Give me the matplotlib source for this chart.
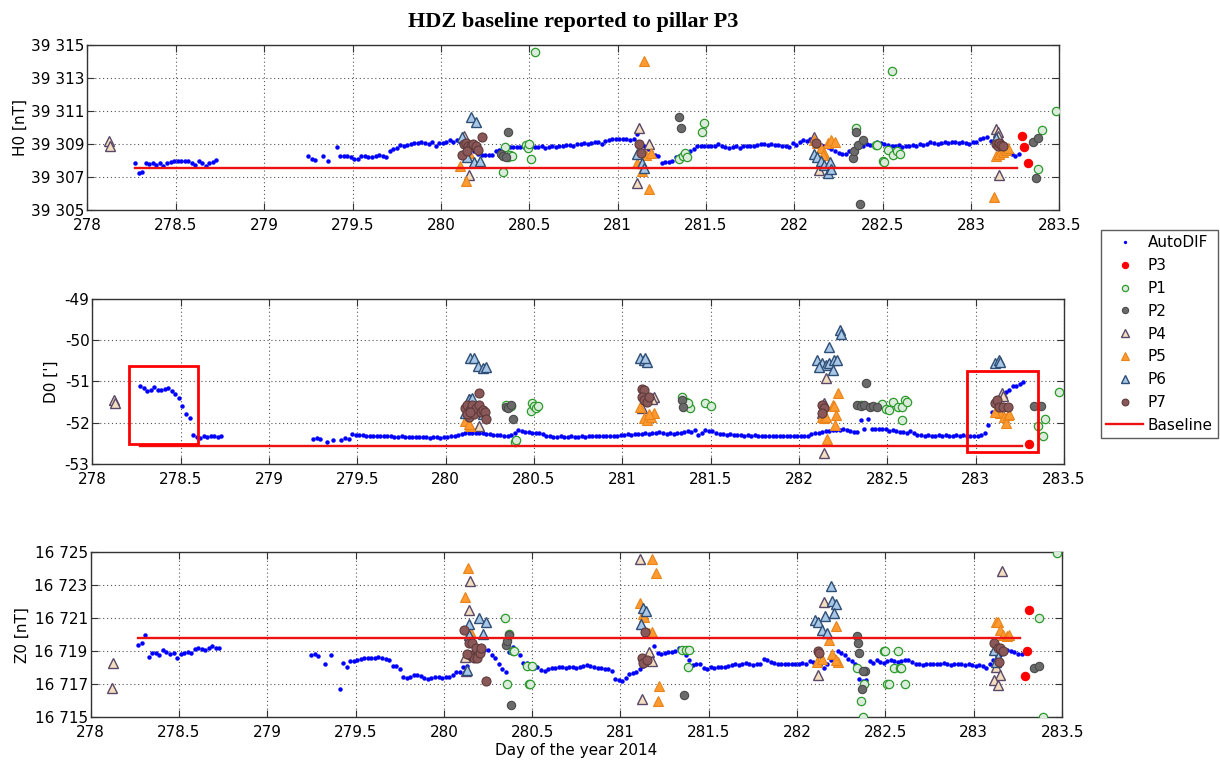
import matplotlib
matplotlib.use('Agg')
import matplotlib.pyplot as plt
from matplotlib.patches import Rectangle
import numpy as np

plt.rcParams['font.family'] = 'DejaVu Sans'
plt.rcParams['font.size'] = 11

# ---------------- AutoDIF time stamps (day of year 2014) ----------------
t_seg_a = [278.27, 278.29, 278.31, 278.33, 278.35, 278.37, 278.39, 278.41,
           278.43, 278.45, 278.47, 278.49, 278.51, 278.53, 278.55, 278.57,
           278.59, 278.61, 278.63, 278.65, 278.67, 278.69, 278.71, 278.73]
t_seg_b0 = [279.25, 279.27, 279.29, 279.33, 279.36, 279.41, 279.43, 279.45, 279.47]
t_seg_b = [
    279.49, 279.51, 279.53, 279.55, 279.57, 279.59, 279.61, 279.63, 279.65, 279.67,
    279.69, 279.71, 279.73, 279.75, 279.77, 279.79, 279.81, 279.83, 279.85, 279.87,
    279.89, 279.91, 279.93, 279.95, 279.97, 279.99, 280.01, 280.03, 280.05, 280.07,
    280.09, 280.11, 280.13, 280.15, 280.17, 280.19, 280.21, 280.23, 280.25, 280.27,
    280.29, 280.31, 280.33, 280.35, 280.37, 280.39, 280.41, 280.43, 280.45, 280.47,
    280.49, 280.51, 280.53, 280.55, 280.57, 280.59, 280.61, 280.63, 280.65, 280.67,
    280.69, 280.71, 280.73, 280.75, 280.77, 280.79, 280.81, 280.83, 280.85, 280.87,
    280.89, 280.91, 280.93, 280.95, 280.97, 280.99, 281.01, 281.03, 281.05, 281.07,
    281.09, 281.11, 281.13, 281.15, 281.17, 281.19, 281.21, 281.23, 281.25, 281.27,
    281.29, 281.31, 281.33, 281.35, 281.37, 281.39, 281.41, 281.43, 281.45, 281.47,
    281.49, 281.51, 281.53, 281.55, 281.57, 281.59, 281.61, 281.63, 281.65, 281.67,
    281.69, 281.71, 281.73, 281.75, 281.77, 281.79, 281.81, 281.83, 281.85, 281.87,
    281.89, 281.91, 281.93, 281.95, 281.97, 281.99, 282.01, 282.03, 282.05, 282.07,
    282.09, 282.11, 282.13, 282.15, 282.17, 282.19, 282.21, 282.23, 282.25, 282.27,
    282.29, 282.31, 282.33, 282.35, 282.37, 282.39, 282.41, 282.43, 282.45, 282.47,
    282.49, 282.51, 282.53, 282.55, 282.57, 282.59, 282.61, 282.63, 282.65, 282.67,
    282.69, 282.71, 282.73, 282.75, 282.77, 282.79, 282.81, 282.83, 282.85, 282.87,
    282.89, 282.91, 282.93, 282.95, 282.97, 282.99, 283.01, 283.03, 283.05, 283.07,
    283.09, 283.11, 283.13, 283.15, 283.17, 283.19, 283.21, 283.23, 283.25, 283.27]

# ---------------- AutoDIF H0 [nT] ----------------
h_seg_a = [39307.85, 39307.25, 39307.28, 39307.82, 39307.80, 39307.82, 39307.75, 39307.85,
           39307.65, 39307.85, 39307.92, 39307.95, 39307.95, 39307.95, 39307.98, 39307.95,
           39307.85, 39307.75, 39307.95, 39307.85, 39307.65, 39307.85, 39307.90, 39308.02]
h_seg_b0 = [39308.25, 39308.10, 39308.05, 39308.30, 39307.95, 39308.80, 39308.25, 39308.25, 39308.25]
h_seg_b = [
    39308.20, 39308.10, 39308.10, 39308.25, 39308.28, 39308.20, 39308.22, 39308.30, 39308.35, 39308.25,
    39308.22, 39308.60, 39308.68, 39308.78, 39308.95, 39308.90, 39308.92, 39309.00, 39309.05, 39309.08,
    39309.12, 39309.05, 39309.00, 39309.10, 39308.85, 39309.05, 39309.08, 39309.10, 39309.22, 39309.15,
    39309.22, 39309.10, 39309.00, 39308.90, 39308.75, 39308.60, 39308.40, 39308.35, 39308.32, 39308.33,
    39308.35, 39308.55, 39308.65, 39308.80, 39308.75, 39308.80, 39308.82, 39308.80, 39308.82, 39308.80,
    39308.85, 39308.80, 39308.82, 39308.80, 39308.85, 39308.78, 39308.80, 39308.85, 39308.80, 39308.88,
    39308.90, 39308.92, 39308.95, 39308.90, 39308.98, 39309.00, 39309.05, 39309.00, 39309.05, 39309.10,
    39309.12, 39308.98, 39309.20, 39309.25, 39309.28, 39309.30, 39309.32, 39309.30, 39309.32, 39309.25,
    39309.30, 39309.60, 39309.05, 39308.90, 39308.70, 39308.50, 39308.35, 39308.30, 39307.85, 39307.92,
    39307.90, 39307.95, 39308.20, 39308.30, 39308.40, 39308.45, 39308.55, 39308.70, 39308.85, 39308.88,
    39308.85, 39308.88, 39308.85, 39308.90, 39309.00, 39308.85, 39308.80, 39308.78, 39308.82, 39308.90,
    39308.75, 39308.85, 39308.88, 39308.85, 39308.85, 39308.95, 39309.00, 39308.98, 39308.95, 39308.98,
    39308.92, 39308.95, 39308.90, 39308.88, 39308.80, 39309.05, 39308.95, 39309.10, 39309.25, 39309.20,
    39309.30, 39309.10, 39309.00, 39308.95, 39308.90, 39308.80, 39308.70, 39308.55, 39308.45, 39308.40,
    39308.40, 39308.55, 39308.70, 39308.75, 39308.85, 39308.90, 39309.00, 39308.95, 39309.00, 39309.10,
    39309.05, 39309.00, 39308.95, 39308.90, 39308.85, 39308.95, 39308.80, 39308.85, 39308.90, 39308.95,
    39308.90, 39309.00, 39308.95, 39309.00, 39309.10, 39309.05, 39309.00, 39309.05, 39309.10, 39309.05,
    39309.10, 39309.10, 39309.05, 39309.10, 39309.05, 39309.00, 39309.15, 39309.10, 39309.30, 39309.35,
    39309.40, 39309.20, 39309.00, 39308.90, 39308.80, 39308.70, 39308.60, 39308.40, 39308.30, 39308.40]

# ---------------- AutoDIF D0 ['] ----------------
d_seg_a = [-51.12, -51.15, -51.22, -51.20, -51.14, -51.20, -51.21, -51.19,
           -51.16, -51.22, -51.30, -51.40, -51.60, -51.79, -51.88, -52.30,
           -52.35, -52.36, -52.32, -52.34, -52.33, -52.33, -52.34, -52.33]
d_seg_b0 = [-52.39, -52.38, -52.39, -52.46, -52.42, -52.43, -52.36, -52.39, -52.28]
d_seg_b = [
    -52.30, -52.29, -52.30, -52.31, -52.31, -52.32, -52.31, -52.32, -52.33, -52.32,
    -52.33, -52.34, -52.34, -52.33, -52.34, -52.34, -52.35, -52.34, -52.35, -52.35,
    -52.35, -52.36, -52.35, -52.35, -52.36, -52.35, -52.34, -52.33, -52.31, -52.30,
    -52.28, -52.26, -52.25, -52.24, -52.24, -52.25, -52.24, -52.27, -52.28, -52.29,
    -52.30, -52.29, -52.31, -52.32, -52.30, -52.25, -52.18, -52.20, -52.23, -52.23,
    -52.24, -52.25, -52.26, -52.28, -52.31, -52.33, -52.34, -52.34, -52.33, -52.34,
    -52.34, -52.33, -52.34, -52.34, -52.33, -52.34, -52.33, -52.33, -52.32, -52.32,
    -52.33, -52.32, -52.31, -52.32, -52.31, -52.30, -52.30, -52.28, -52.29, -52.28,
    -52.27, -52.27, -52.26, -52.27, -52.25, -52.26, -52.23, -52.26, -52.27, -52.26,
    -52.27, -52.25, -52.26, -52.22, -52.20, -52.22, -52.18, -52.29, -52.24, -52.18,
    -52.19, -52.21, -52.25, -52.27, -52.28, -52.29, -52.28, -52.29, -52.30, -52.29,
    -52.31, -52.30, -52.31, -52.30, -52.31, -52.32, -52.32, -52.33, -52.32, -52.32,
    -52.33, -52.32, -52.33, -52.32, -52.32, -52.33, -52.32, -52.32, -52.31, -52.28,
    -52.25, -52.24, -52.22, -52.20, -52.19, -52.18, -52.17, -52.18, -52.16, -52.17,
    -52.19, -52.22, -52.23, -51.93, -52.16, -51.90, -52.14, -52.14, -52.15, -52.14,
    -52.16, -52.19, -52.18, -52.21, -52.23, -52.22, -52.25, -52.21, -52.26, -52.29,
    -52.30, -52.31, -52.30, -52.31, -52.31, -52.30, -52.31, -52.30, -52.31, -52.31,
    -52.30, -52.31, -52.30, -52.31, -52.31, -52.32, -52.31, -52.30, -52.26, -52.06,
    -51.75, -51.55, -51.42, -51.33, -51.25, -51.20, -51.12, -51.10, -51.05, -51.02]

# ---------------- AutoDIF Z0 [nT] ----------------
z_seg_a = [16719.40, 16719.50, 16720.00, 16718.65, 16718.88, 16718.90, 16718.78, 16719.10,
           16718.95, 16718.85, 16718.90, 16718.58, 16718.85, 16718.90, 16718.95, 16718.90,
           16719.15, 16719.18, 16719.12, 16719.10, 16719.18, 16719.35, 16719.18, 16719.18]
z_seg_b0 = [16718.80, 16718.83, 16718.74, 16718.24, 16718.80, 16716.72, 16718.30, 16718.06, 16718.40]
z_seg_b = [
    16718.40, 16718.48, 16718.55, 16718.60, 16718.62, 16718.62, 16718.60, 16718.65, 16718.58, 16718.55,
    16718.45, 16718.10, 16718.08, 16717.95, 16717.42, 16717.40, 16717.45, 16717.55, 16717.58, 16717.50,
    16717.38, 16717.30, 16717.40, 16717.45, 16717.42, 16717.40, 16717.42, 16717.45, 16717.55, 16717.75,
    16717.72, 16718.05, 16718.10, 16718.60, 16719.00, 16719.20, 16719.20, 16719.05, 16719.10, 16718.80,
    16718.60, 16718.20, 16717.90, 16717.75, 16718.95, 16719.25, 16719.10, 16718.75, 16718.30, 16718.30,
    16718.10, 16718.00, 16718.05, 16717.85, 16717.80, 16717.95, 16718.00, 16718.00, 16718.05, 16718.05,
    16718.00, 16718.05, 16718.05, 16718.00, 16718.05, 16718.10, 16718.15, 16718.10, 16718.05, 16718.00,
    16718.00, 16717.95, 16717.90, 16717.80, 16717.35, 16717.25, 16717.20, 16717.40, 16717.65, 16717.70,
    16717.75, 16717.90, 16718.10, 16718.30, 16718.45, 16719.35, 16718.90, 16718.85, 16718.90, 16718.95,
    16718.95, 16719.00, 16719.20, 16719.00, 16718.80, 16718.50, 16718.15, 16718.20, 16718.25, 16718.00,
    16717.95, 16718.05, 16718.00, 16718.05, 16718.05, 16718.05, 16718.10, 16718.15, 16718.20, 16718.15,
    16718.25, 16718.30, 16718.20, 16718.15, 16718.20, 16718.25, 16718.55, 16718.45, 16718.35, 16718.30,
    16718.25, 16718.20, 16718.25, 16718.25, 16718.20, 16718.25, 16718.20, 16718.30, 16718.25, 16718.40,
    16718.35, 16718.25, 16718.15, 16718.00, 16718.20, 16718.50, 16718.70, 16719.00, 16718.90, 16718.75,
    16718.55, 16718.40, 16718.25, 16717.30, 16717.20, 16717.25, 16718.40, 16718.30, 16718.45, 16718.35,
    16718.30, 16718.40, 16718.50, 16718.40, 16718.35, 16718.40, 16718.50, 16718.45, 16718.35, 16718.25,
    16718.20, 16718.15, 16718.20, 16718.20, 16718.20, 16718.20, 16718.20, 16718.30, 16718.25, 16718.15,
    16718.20, 16718.25, 16718.20, 16718.15, 16718.20, 16718.15, 16718.10, 16718.15, 16718.10, 16718.00,
    16718.20, 16718.50, 16718.70, 16718.80, 16718.90, 16719.05, 16719.00, 16718.95, 16718.85, 16718.85]

# ---------------- absolute measurements per pillar: H0 ----------------
h_p3_t = [283.29, 283.30, 283.32]
h_p3 = [39309.48, 39308.84, 39307.83]
h_p1_t = [280.35, 280.36, 280.38, 280.39, 280.40, 280.48, 280.49, 280.50, 280.51, 280.53,
          281.35, 281.37, 281.38, 281.39, 281.48, 281.49, 282.35, 282.46, 282.47, 282.50,
          282.51, 282.53, 282.55, 282.56, 282.58, 282.60, 283.38, 283.40, 283.48]
h_p1 = [39307.32, 39308.80, 39308.20, 39308.35, 39308.30, 39308.95, 39308.75, 39309.00, 39308.10, 39314.60,
        39308.10, 39308.25, 39308.45, 39308.20, 39309.70, 39310.30, 39309.95, 39308.95, 39308.95, 39307.95,
        39307.90, 39308.65, 39313.45, 39308.35, 39308.55, 39308.40, 39307.48, 39309.85, 39311.00]
h_p2_t = [280.34, 280.35, 280.37, 280.38, 281.35, 281.36, 282.33, 282.34, 282.35, 282.36,
          282.37, 282.39, 283.35, 283.37, 283.38]
h_p2 = [39308.40, 39308.25, 39308.20, 39309.75, 39310.62, 39309.95, 39308.15, 39308.60, 39309.75, 39308.94,
        39305.36, 39309.24, 39309.15, 39306.92, 39309.35]
h_p4_t = [278.12, 278.13, 280.13, 280.16, 281.12, 281.11, 281.18, 282.11, 282.14, 283.14,
          283.15, 283.15, 283.16]
h_p4 = [39309.20, 39308.85, 39309.50, 39307.15, 39309.95, 39306.65, 39309.00, 39309.40, 39307.45, 39309.90,
        39309.70, 39309.50, 39307.12]
h_p5_t = [280.11, 280.14, 280.16, 281.11, 281.14, 281.15, 281.16, 281.18, 281.19, 282.11,
          282.13, 282.15, 282.17, 282.19, 282.21, 282.23, 282.16, 283.13, 283.14, 283.16,
          283.18, 283.20, 283.21]
h_p5 = [39307.65, 39306.78, 39308.45, 39307.85, 39307.35, 39314.05, 39308.35, 39306.25, 39308.45, 39309.25,
        39309.05, 39308.75, 39308.45, 39309.05, 39309.25, 39309.10, 39308.35, 39305.77, 39308.30, 39308.40,
        39308.50, 39308.65, 39308.75]
h_p6_t = [280.12, 280.17, 280.20, 280.15, 280.19, 280.22, 281.11, 281.14, 281.15, 282.11,
          282.13, 282.15, 282.17, 282.19, 282.20, 282.21, 283.14]
h_p6 = [39309.40, 39310.62, 39310.35, 39308.20, 39307.90, 39308.00, 39308.40, 39307.85, 39307.55, 39308.40,
        39308.20, 39308.00, 39307.75, 39307.25, 39307.90, 39307.50, 39309.35]
h_p7_t = [280.12, 280.13, 280.14, 280.155, 280.17, 280.18, 280.20, 280.21, 280.23, 280.15,
          281.12, 281.13, 282.12, 283.14, 283.15, 283.16, 283.17, 283.18]
h_p7 = [39308.35, 39309.00, 39309.05, 39308.90, 39308.85, 39309.00, 39308.90, 39308.65, 39309.45, 39308.60,
        39309.00, 39308.45, 39309.05, 39309.00, 39308.90, 39309.05, 39308.95, 39308.85]

# ---------------- absolute measurements per pillar: D0 ----------------
d_p3_t = [283.30]
d_p3 = [-52.52]
d_p1_t = [280.34, 280.36, 280.37, 280.39, 280.40, 280.48, 280.49, 280.50, 280.51, 280.52,
          281.34, 281.36, 281.38, 281.37, 281.47, 281.50, 282.35, 282.47, 282.49, 282.51,
          282.53, 282.56, 282.58, 282.60, 282.61, 282.58, 283.35, 283.38, 283.39, 283.47]
d_p1 = [-51.58, -51.62, -51.60, -52.46, -52.42, -51.72, -51.52, -51.60, -51.65, -51.60,
        -51.37, -51.50, -51.64, -51.53, -51.53, -51.59, -51.56, -51.54, -51.67, -51.68,
        -51.49, -51.61, -51.61, -51.45, -51.49, -51.93, -52.08, -52.32, -51.92, -51.25]
d_p2_t = [280.34, 280.355, 280.37, 280.38, 281.34, 281.345, 282.33, 282.35, 282.37, 282.38,
          282.40, 282.42, 282.44, 283.33, 283.37]
d_p2 = [-51.61, -51.65, -51.57, -51.92, -51.45, -51.62, -51.56, -51.60, -51.58, -51.03,
        -51.63, -51.60, -51.62, -51.59, -51.59]
d_p4_t = [278.12, 278.127, 280.13, 280.19, 281.18, 281.17, 281.11, 282.15, 282.14, 282.13,
          282.14, 283.15, 283.155]
d_p4 = [-51.46, -51.53, -51.42, -52.09, -51.37, -51.42, -51.64, -50.92, -52.74, -51.76,
        -51.52, -51.29, -51.36]
d_p5_t = [280.11, 280.14, 280.13, 281.10, 281.12, 281.14, 281.16, 281.18, 281.15, 282.19,
          282.20, 282.13, 282.14, 282.15, 282.22, 282.21, 282.205, 282.16, 283.14, 283.16,
          283.18, 283.17, 283.19, 283.11]
d_p5 = [-51.96, -52.09, -52.02, -51.61, -51.89, -51.93, -51.85, -51.77, -51.80, -51.56,
        -51.60, -51.85, -51.89, -51.85, -51.27, -51.81, -52.05, -52.39, -51.77, -51.85,
        -51.81, -52.01, -51.78, -51.75]
d_p6_t = [280.14, 280.16, 280.185, 280.21, 280.23, 280.13, 280.15, 280.11, 280.21, 281.10,
          281.12, 281.14, 281.13, 282.23, 282.24, 282.17, 282.10, 282.13, 282.15, 282.17,
          282.11, 282.19, 282.20, 282.215, 283.11, 283.13, 283.14]
d_p6 = [-50.44, -50.42, -50.62, -50.67, -50.65, -51.42, -51.40, -51.77, -51.80, -50.44,
        -50.48, -50.52, -50.44, -49.75, -49.85, -50.17, -50.48, -50.54, -50.60, -50.56,
        -50.64, -50.72, -50.48, -50.47, -50.56, -50.48, -50.52]
d_p7_t = [280.11, 280.12, 280.13, 280.14, 280.15, 280.16, 280.17, 280.19, 280.19, 280.20,
          280.21, 280.22, 280.23, 280.12, 280.135, 281.11, 281.12, 281.11, 281.12, 281.14,
          281.15, 282.13, 282.14, 282.13, 283.11, 283.12, 283.13, 283.155, 283.18]
d_p7 = [-51.65, -51.57, -51.85, -51.69, -51.57, -51.79, -51.65, -51.29, -51.57, -51.73,
        -51.69, -51.75, -51.91, -51.79, -51.75, -51.17, -51.21, -51.38, -51.45, -51.49,
        -51.38, -51.56, -51.64, -51.76, -51.53, -51.45, -51.61, -51.61, -51.61]

# ---------------- absolute measurements per pillar: Z0 ----------------
z_p3_t = [283.29, 283.30, 283.31]
z_p3 = [16717.51, 16718.99, 16721.52]
z_p1_t = [280.345, 280.37, 280.36, 280.39, 280.40, 280.47, 280.48, 280.49, 280.50, 281.35,
          281.37, 281.39, 281.38, 282.34, 282.36, 282.37, 282.38, 282.49, 282.50, 282.51,
          282.52, 282.55, 282.57, 282.58, 282.59, 282.61, 283.37, 283.39, 283.47]
z_p1 = [16721.03, 16720.05, 16717.02, 16719.01, 16719.01, 16718.10, 16717.02, 16717.02, 16718.10, 16719.05,
        16719.05, 16719.05, 16718.04, 16718.00, 16715.97, 16715.00, 16717.00, 16719.00, 16719.00, 16717.00,
        16717.00, 16718.00, 16719.00, 16718.00, 16718.00, 16717.00, 16721.01, 16715.00, 16724.96]
z_p2_t = [280.35, 280.36, 280.37, 280.38, 281.36, 282.34, 282.345, 282.35, 282.385, 282.37,
          282.365, 283.34, 283.37]
z_p2 = [16719.41, 16719.62, 16719.96, 16715.77, 16716.37, 16719.92, 16719.51, 16718.91, 16717.83, 16717.83,
        16716.72, 16717.97, 16718.12]
z_p4_t = [278.13, 278.12, 280.15, 280.145, 280.12, 280.125, 281.11, 281.12, 281.16, 281.18,
          282.15, 282.12, 283.157, 283.123, 283.146, 283.112, 283.135]
z_p4 = [16718.28, 16716.76, 16723.26, 16721.48, 16718.64, 16717.80, 16724.62, 16716.13, 16718.96, 16718.40,
        16722.00, 16717.55, 16723.85, 16718.07, 16717.57, 16717.27, 16716.96]
z_p5_t = [280.135, 280.12, 280.15, 281.18, 281.20, 281.11, 281.13, 281.135, 281.16, 281.18,
          281.22, 281.21, 282.22, 282.18, 282.11, 282.14, 282.20, 282.23, 282.22, 283.123,
          283.135, 283.146, 283.168, 283.19, 283.20]
z_p5 = [16724.07, 16722.31, 16720.20, 16724.62, 16723.72, 16721.94, 16721.28, 16721.10, 16720.10, 16720.15,
        16716.88, 16715.97, 16720.53, 16719.71, 16718.36, 16718.55, 16718.84, 16718.36, 16718.50, 16720.77,
        16720.77, 16720.30, 16720.00, 16719.90, 16720.00]
z_p6_t = [280.145, 280.198, 280.236, 280.22, 280.14, 280.13, 281.13, 281.145, 281.115, 282.19,
          282.20, 282.22, 282.21, 282.10, 282.12, 282.14, 282.16, 282.17, 283.112, 283.135,
          283.123]
z_p6 = [16720.67, 16721.03, 16720.79, 16720.02, 16720.00, 16717.89, 16721.64, 16721.44, 16720.63, 16722.96,
        16722.05, 16721.84, 16721.34, 16720.87, 16720.75, 16720.32, 16721.13, 16720.12, 16719.09, 16718.68,
        16718.38]
z_p7_t = [280.115, 280.14, 280.16, 280.18, 280.15, 280.17, 280.19, 280.205, 280.21, 280.13,
          280.237, 281.14, 281.12, 281.13, 281.15, 282.12, 282.125, 283.112, 283.135, 283.146,
          283.168, 283.14]
z_p7 = [16720.32, 16719.51, 16719.51, 16719.21, 16718.80, 16718.60, 16718.60, 16718.90, 16719.21, 16718.82,
        16717.22, 16720.18, 16718.60, 16718.30, 16718.45, 16719.00, 16718.90, 16719.50, 16719.19, 16719.19,
        16718.99, 16718.38]

# ---------------- baselines ----------------
baseline_t = [278.27, 283.26]
h_base = 39307.53
d_base = -52.56
z_base = 16719.78

# ---------------- axes ticks ----------------
x_ticks = [278, 278.5, 279, 279.5, 280, 280.5, 281, 281.5, 282, 282.5, 283, 283.5]
x_ticklabels = ['278', '278.5', '279', '279.5', '280', '280.5', '281', '281.5',
                '282', '282.5', '283', '283.5']
h_ticks = [39305, 39307, 39309, 39311, 39313, 39315]
h_ticklabels = ['39 305', '39 307', '39 309', '39 311', '39 313', '39 315']
d_ticks = [-53, -52, -51, -50, -49]
d_ticklabels = ['-53', '-52', '-51', '-50', '-49']
z_ticks = [16715, 16717, 16719, 16721, 16723, 16725]
z_ticklabels = ['16 715', '16 717', '16 719', '16 721', '16 723', '16 725']

# highlighted windows in the D0 panel: (day0, day1, D0 low, D0 high)
box_1 = (278.21, 278.60, -52.52, -50.62)
box_2 = (282.95, 283.35, -52.70, -50.75)

# ---------------- styles ----------------
styles = {
    'P3': dict(marker='o', ms=6, mfc='#ff0000', mec='#ff0000', mew=0.8),
    'P1': dict(marker='o', ms=6, mfc='#dcecdc', mec='#2e9a2e', mew=0.9),
    'P2': dict(marker='o', ms=6, mfc='#6a6a6a', mec='#4a4a4a', mew=0.8),
    'P4': dict(marker='^', ms=7, mfc='#f3dfc0', mec='#5a4868', mew=1.0),
    'P5': dict(marker='^', ms=7, mfc='#ff9a30', mec='#e8841a', mew=0.8),
    'P6': dict(marker='^', ms=7, mfc='#a9c8e8', mec='#2e4e76', mew=1.0),
    'P7': dict(marker='o', ms=6.5, mfc='#8a5858', mec='#5e3a3a', mew=0.8),
}

fig = plt.figure(figsize=(12.2, 7.62), dpi=100)

panels = [
    dict(rect=[0.0717, 0.7244, 0.7967, 0.2165], auto=(h_seg_a, h_seg_b0, h_seg_b),
         pillars={'P3': (h_p3_t, h_p3), 'P1': (h_p1_t, h_p1), 'P2': (h_p2_t, h_p2),
                  'P4': (h_p4_t, h_p4), 'P5': (h_p5_t, h_p5), 'P6': (h_p6_t, h_p6),
                  'P7': (h_p7_t, h_p7)},
         base=h_base, yt=h_ticks, ytl=h_ticklabels, ylab='H0 [nT]', labx=-0.061),
    dict(rect=[0.0757, 0.3911, 0.7965, 0.2165], auto=(d_seg_a, d_seg_b0, d_seg_b),
         pillars={'P3': (d_p3_t, d_p3), 'P1': (d_p1_t, d_p1), 'P2': (d_p2_t, d_p2),
                  'P4': (d_p4_t, d_p4), 'P5': (d_p5_t, d_p5), 'P6': (d_p6_t, d_p6),
                  'P7': (d_p7_t, d_p7)},
         base=d_base, yt=d_ticks, ytl=d_ticklabels, ylab="D0 [']", labx=-0.035),
    dict(rect=[0.0742, 0.0587, 0.7964, 0.2165], auto=(z_seg_a, z_seg_b0, z_seg_b),
         pillars={'P3': (z_p3_t, z_p3), 'P1': (z_p1_t, z_p1), 'P2': (z_p2_t, z_p2),
                  'P4': (z_p4_t, z_p4), 'P5': (z_p5_t, z_p5), 'P6': (z_p6_t, z_p6),
                  'P7': (z_p7_t, z_p7)},
         base=z_base, yt=z_ticks, ytl=z_ticklabels, ylab='Z0 [nT]', labx=-0.062),
]

t_all = t_seg_a + t_seg_b0 + t_seg_b
handles = None
axes = []
for p in panels:
    ax = fig.add_axes(p['rect'])
    axes.append(ax)
    vals = p['auto'][0] + p['auto'][1] + p['auto'][2]
    assert len(vals) == len(t_all)
    hs = []
    hs.append(ax.plot(t_all, vals, linestyle='none', marker='o', ms=3.2,
                      mfc='#0000ff', mec='#0000ff', mew=0, label='AutoDIF', zorder=2)[0])
    for i, name in enumerate(['P3', 'P1', 'P2', 'P4', 'P5', 'P6', 'P7']):
        tx, ty = p['pillars'][name]
        hs.append(ax.plot(tx, ty, linestyle='none', label=name, zorder=3 + i,
                          **styles[name])[0])
    hs.append(ax.plot(baseline_t, [p['base'], p['base']], color='#ee1111', lw=1.7,
                      label='Baseline', zorder=12)[0])
    if handles is None:
        handles = hs

    ax.set_xlim(278, 283.5)
    ax.set_ylim(p['yt'][0], p['yt'][-1])
    ax.set_xticks(x_ticks)
    ax.set_xticklabels(x_ticklabels)
    ax.set_yticks(p['yt'])
    ax.set_yticklabels(p['ytl'])
    ax.tick_params(direction='in', top=True, right=True, length=5, width=0.8,
                   color='#333333', labelsize=11)
    ax.tick_params(axis='x', pad=5.5)
    ax.tick_params(axis='y', pad=2)
    ax.grid(True, linestyle=(0, (1, 2.5)), color='#555555', linewidth=0.8)
    ax.set_axisbelow(True)
    for s in ax.spines.values():
        s.set_color('#333333')
        s.set_linewidth(1.0)
    ax.set_ylabel(p['ylab'], fontsize=11)
    ax.yaxis.set_label_coords(p['labx'], 0.5)

# red windows in the D0 panel
for b in (box_1, box_2):
    axes[1].add_patch(Rectangle((b[0], b[2]), b[1] - b[0], b[3] - b[2], fill=False,
                                edgecolor='#ff0000', linewidth=2.0, zorder=15,
                                clip_on=False))

axes[2].set_xlabel('Day of the year 2014', fontsize=11, labelpad=2)

fig.text(573 / 1220, 1 - 22 / 762, 'HDZ baseline reported to pillar P3',
         ha='center', va='center', fontsize=16, fontweight='bold',
         family='Liberation Serif')

leg = fig.legend(handles=handles, labels=[h.get_label() for h in handles],
                 loc='upper left', bbox_to_anchor=(1101 / 1220, 1 - 230 / 762),
                 fontsize=11, frameon=True, fancybox=False, edgecolor='#333333',
                 handlelength=2.4, handletextpad=0.3, labelspacing=0.51,
                 borderpad=0.35, borderaxespad=0.0, markerscale=0.75)
leg.get_frame().set_linewidth(1.0)

fig.savefig('out.png', dpi=100)
